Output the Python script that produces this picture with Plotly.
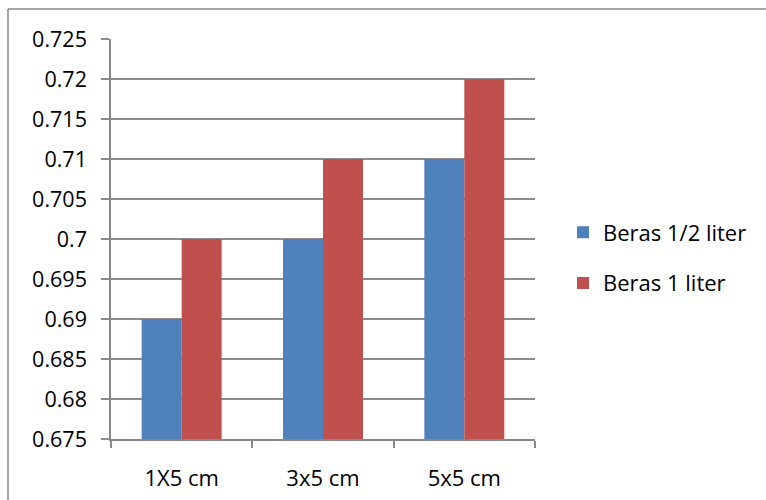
import plotly.graph_objects as go

categories = ["1X5 cm", "3x5 cm", "5x5 cm"]
series_names = ["Beras 1/2 liter", "Beras 1 liter"]
half_liter = [0.69, 0.70, 0.71]
one_liter = [0.70, 0.71, 0.72]
colors = ["#4F81BD", "#C0504D"]
y_ticks = [0.675, 0.68, 0.685, 0.69, 0.695, 0.70, 0.705, 0.71, 0.715, 0.72, 0.725]
y_tick_labels = ["0.675", "0.68", "0.685", "0.69", "0.695", "0.7", "0.705", "0.71", "0.715", "0.72", "0.725"]

W, H = 766, 500
L, R, T, B = 111, 535, 39, 439

fig = go.Figure()
for i, (name, vals) in enumerate(zip(series_names, [half_liter, one_liter])):
    fig.add_trace(go.Bar(x=categories, y=vals, name=name, marker_color=colors[i],
                         marker_line_width=0, legendgroup=str(i)))

pw, ph = R - L, B - T
font_family = "Open Sans, Lato, Liberation Sans, sans-serif"
fig.update_layout(
    width=W, height=H,
    margin=dict(l=L, r=W - R, t=T, b=H - B, autoexpand=False),
    paper_bgcolor="white", plot_bgcolor="white",
    barmode="group", bargap=0.434, bargroupgap=0,
    font=dict(family=font_family, size=22, color="black"),
    legend=dict(x=(563 - L) / pw, y=1 - (258 - T) / ph, xanchor="left", yanchor="middle",
                font=dict(size=22), tracegroupgap=19, bgcolor="rgba(0,0,0,0)"),
    xaxis=dict(showgrid=False, showline=True, linecolor="#888888", linewidth=1.5,
               ticks="outside", tickson="boundaries", ticklen=7, tickcolor="#888888",
               tickwidth=1.5, tickfont=dict(size=22), ticklabelstandoff=19,
               automargin=False),
    yaxis=dict(range=[0.675, 0.725], tickvals=y_ticks, ticktext=y_tick_labels,
               showgrid=True, gridcolor="#8c8c8c", gridwidth=1.5,
               showline=True, linecolor="#888888", linewidth=1.5,
               ticks="outside", ticklen=8, tickcolor="#8c8c8c", tickwidth=1.5,
               tickfont=dict(size=21.5), ticklabelstandoff=10, zeroline=False,
               automargin=False),
    shapes=[
        dict(type="line", xref="paper", yref="paper",
             x0=(8 - L) / pw, x1=(W + 5 - L) / pw, y0=1 + (T - 9) / ph, y1=1 + (T - 9) / ph,
             line=dict(color="#888888", width=1.5)),
        dict(type="line", xref="paper", yref="paper",
             x0=(8 - L) / pw, x1=(8 - L) / pw, y0=1 + (T - 9) / ph, y1=-(H + 5 - B) / ph,
             line=dict(color="#888888", width=1.5)),
    ],
)
fig.write_html("out.html")
